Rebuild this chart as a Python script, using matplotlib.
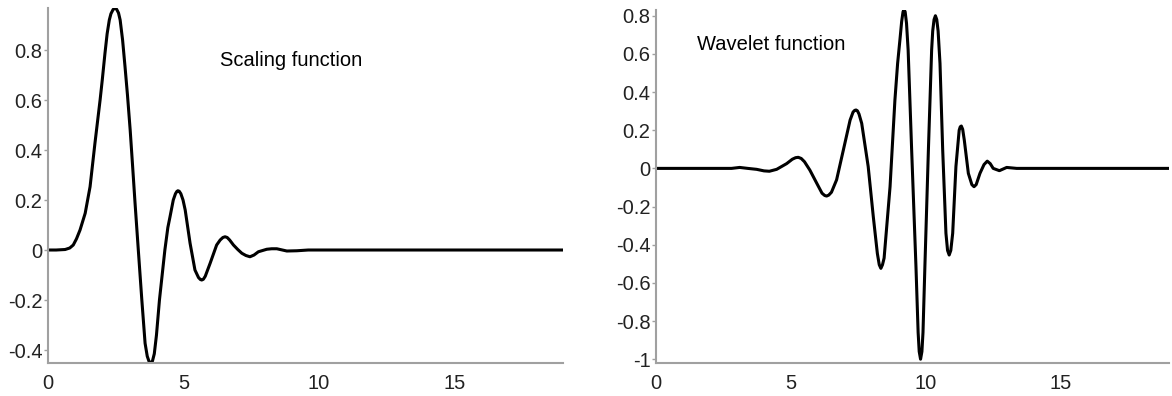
import matplotlib
matplotlib.use("Agg")
import matplotlib.pyplot as plt

plt.rcParams["font.family"] = ["Liberation Sans", "DejaVu Sans"]

# Daubechies-type scaling function, values read at irregular positions
scaling_x = [0, 0.3, 0.63, 0.80, 0.93, 1.05, 1.18, 1.37, 1.55, 1.73, 1.92, 2.00,
             2.10, 2.18, 2.26, 2.32, 2.40, 2.47, 2.53, 2.60, 2.66, 2.75, 2.84,
             2.93, 3.03, 3.12, 3.21, 3.33, 3.46, 3.58, 3.66, 3.73, 3.79, 3.85,
             3.92, 4.00, 4.11, 4.19, 4.31, 4.42, 4.50, 4.62, 4.70, 4.75, 4.79,
             4.84, 4.90, 4.98, 5.06, 5.24, 5.42, 5.55, 5.62, 5.67, 5.73, 5.80,
             5.98, 6.22, 6.35, 6.45, 6.53, 6.61, 6.70, 6.84, 7.00, 7.15, 7.30,
             7.45, 7.60, 7.76, 8.07, 8.25, 8.44, 8.81, 9.18, 9.60, 19.0]
scaling_y = [0, 0, 0.002, 0.008, 0.02, 0.045, 0.08, 0.147, 0.253, 0.427, 0.60, 0.68,
             0.787, 0.865, 0.92, 0.945, 0.962, 0.967, 0.963, 0.948, 0.92, 0.84, 0.733,
             0.62, 0.48, 0.335, 0.187, 0.0, -0.2, -0.373, -0.425, -0.447, -0.45, -0.445,
             -0.415, -0.34, -0.2, -0.12, 0.0, 0.09, 0.133, 0.2, 0.225, 0.234, 0.237,
             0.235, 0.225, 0.20, 0.16, 0.027, -0.08, -0.11, -0.118, -0.12, -0.117, -0.105,
             -0.053, 0.02, 0.04, 0.05, 0.053, 0.05, 0.04, 0.02, 0.002, -0.013, -0.022,
             -0.027, -0.02, -0.007, 0.003, 0.005, 0.005, -0.004, -0.003, 0.0, 0.0]

# matching wavelet function
wavelet_x = [0, 2.8, 3.1, 3.4, 3.73, 4.0, 4.2, 4.47, 4.84, 5.05, 5.17, 5.27, 5.38,
             5.5, 5.70, 6.0, 6.15, 6.25, 6.32, 6.40, 6.5, 6.69, 6.94, 7.19, 7.30,
             7.36, 7.41, 7.46, 7.52, 7.62, 7.86, 8.05, 8.20, 8.27, 8.33, 8.39, 8.45,
             8.67, 8.85, 8.95, 9.04, 9.10, 9.15, 9.19, 9.23, 9.28, 9.34, 9.47, 9.63,
             9.71, 9.75, 9.80, 9.85, 9.89, 9.96, 10.09, 10.21, 10.25, 10.30, 10.35,
             10.40, 10.45, 10.52, 10.62, 10.74, 10.80, 10.86, 10.92, 10.99, 11.11,
             11.23, 11.27, 11.31, 11.36, 11.42, 11.57, 11.70, 11.78, 11.86, 12.0,
             12.15, 12.27, 12.38, 12.49, 12.72, 12.99, 13.36, 19.0]
wavelet_y = [0, 0, 0.005, 0.0, -0.005, -0.013, -0.015, -0.005, 0.025, 0.048, 0.056,
             0.058, 0.052, 0.035, -0.009, -0.09, -0.13, -0.142, -0.145, -0.14, -0.125,
             -0.06, 0.096, 0.253, 0.295, 0.304, 0.306, 0.302, 0.285, 0.236, 0.01,
             -0.254, -0.446, -0.505, -0.524, -0.505, -0.47, -0.096, 0.358, 0.55, 0.68,
             0.77, 0.82, 0.833, 0.82, 0.76, 0.62, 0.096, -0.516, -0.86, -0.96, -1.0,
             -0.96, -0.86, -0.516, 0.096, 0.62, 0.72, 0.78, 0.80, 0.78, 0.72, 0.55,
             0.096, -0.34, -0.43, -0.454, -0.43, -0.34, 0.01, 0.20, 0.218, 0.222,
             0.205, 0.148, -0.026, -0.085, -0.096, -0.085, -0.026, 0.02, 0.038, 0.025,
             0.0, -0.012, 0.005, 0.0, 0.0]

scaling_ticks = [-0.4, -0.2, 0, 0.2, 0.4, 0.6, 0.8]
wavelet_ticks = [-1, -0.8, -0.6, -0.4, -0.2, 0, 0.2, 0.4, 0.6, 0.8]
x_ticks = [0, 5, 10, 15]


def tick_text(v):
    return "0" if v == 0 else f"{v:g}"


def style_axes(ax, yticks):
    for side in ("top", "right"):
        ax.spines[side].set_visible(False)
    for side in ("left", "bottom"):
        ax.spines[side].set_color("#a0a0a0")
        ax.spines[side].set_linewidth(1.5)
    ax.set_xlim(0, 19)
    ax.set_xticks(x_ticks)
    ax.set_xticklabels([tick_text(v) for v in x_ticks])
    ax.set_yticks(yticks)
    ax.set_yticklabels([tick_text(v) for v in yticks])
    ax.tick_params(axis="x", length=0, pad=8, labelsize=14.5, labelcolor="#222222")
    ax.tick_params(axis="y", length=3, width=1, color="#a0a0a0", pad=1,
                   labelsize=14.5, labelcolor="#222222")


fig = plt.figure(figsize=(11.72, 3.96), dpi=100)

ax1 = fig.add_axes([0.041, 0.0833, 0.4394, 0.8965])
ax1.plot(scaling_x, scaling_y, color="black", linewidth=2.2,
         solid_joinstyle="round", solid_capstyle="round")
ax1.set_ylim(-0.452, 0.968)
style_axes(ax1, scaling_ticks)
ax1.text(6.35, 0.76, "Scaling function", fontsize=14.5, va="center", ha="left")

ax2 = fig.add_axes([0.5597, 0.0833, 0.4377, 0.8914])
ax2.plot(wavelet_x, wavelet_y, color="black", linewidth=2.2,
         solid_joinstyle="round", solid_capstyle="round")
ax2.set_ylim(-1.02, 0.83)
style_axes(ax2, wavelet_ticks)
ax2.text(1.52, 0.65, "Wavelet function", fontsize=14.5, va="center", ha="left")

fig.savefig("out.png", dpi=100)
